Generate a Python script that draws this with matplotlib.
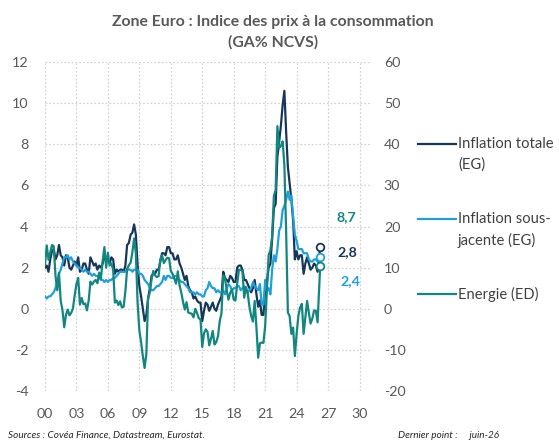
import numpy as np
import matplotlib
matplotlib.use('Agg')
import matplotlib.pyplot as plt
from matplotlib.lines import Line2D

plt.rcParams['font.family'] = ['Lato', 'DejaVu Sans']
plt.rcParams['axes.unicode_minus'] = False

# Donnees (glissement annuel, %), un point tous les deux mois : jan, mar, mai, jul, sep, nov
annees = list(range(2000, 2026))
mois = [1, 3, 5, 7, 9, 11]
mois_fin = [(2026, 1), (2026, 4)]

inflation_totale = [
    2.0, 2.1, 1.8, 2.4, 2.8, 2.9,      # 2000
    2.4, 2.6, 3.1, 2.6, 2.5, 2.1,      # 2001
    2.6, 2.5, 2.0, 1.9, 2.1, 2.3,      # 2002
    2.1, 2.5, 1.8, 1.9, 2.2, 2.2,      # 2003
    1.9, 1.7, 2.5, 2.3, 2.1, 2.2,      # 2004
    1.9, 2.1, 2.0, 2.2, 2.6, 2.3,      # 2005
    2.4, 2.2, 2.5, 2.4, 1.7, 1.9,      # 2006
    1.8, 1.9, 1.9, 1.8, 2.1, 3.1,      # 2007
    3.2, 3.6, 3.7, 4.1, 3.6, 2.1,      # 2008
    1.1, 0.6, 0.0, -0.6, -0.3, 0.5,    # 2009
    1.0, 1.6, 1.7, 1.7, 1.9, 1.9,      # 2010
    2.3, 2.7, 2.7, 2.6, 3.0, 3.0,      # 2011
    2.7, 2.7, 2.4, 2.4, 2.6, 2.2,      # 2012
    2.0, 1.7, 1.4, 1.6, 1.1, 0.9,      # 2013
    0.8, 0.5, 0.6, 0.4, 0.3, 0.3,      # 2014
    -0.6, -0.1, 0.3, 0.2, -0.1, 0.1,   # 2015
    0.3, 0.0, -0.1, 0.2, 0.4, 0.6,     # 2016
    1.8, 1.5, 1.4, 1.3, 1.6, 1.5,      # 2017
    1.3, 1.3, 2.0, 2.1, 2.1, 1.9,      # 2018
    1.4, 1.4, 1.2, 1.0, 0.8, 1.0,      # 2019
    1.4, 0.7, 0.1, 0.4, -0.3, -0.3,    # 2020
    0.9, 1.3, 2.0, 2.2, 3.4, 4.9,      # 2021
    5.1, 7.4, 8.1, 8.9, 9.9, 10.6,     # 2022
    8.6, 6.9, 6.1, 5.3, 4.3, 2.4,      # 2023
    2.8, 2.4, 2.6, 2.6, 1.7, 2.2,      # 2024
    2.5, 2.2, 1.9, 2.0, 2.2, 2.1,      # 2025
    1.8, 3.0,                          # 2026
]

inflation_sj = [
    0.6, 0.5, 0.6, 0.6, 0.7, 0.8,
    1.0, 1.3, 1.7, 1.9, 2.2, 2.5,
    2.5, 2.6, 2.4, 2.5, 2.3, 2.2,
    2.1, 2.0, 2.0, 1.9, 1.8, 1.9,
    1.8, 1.8, 1.7, 1.6, 1.7, 1.6,
    1.6, 1.5, 1.4, 1.4, 1.3, 1.4,
    1.3, 1.4, 1.4, 1.5, 1.5, 1.6,
    1.7, 1.8, 1.8, 1.8, 1.8, 1.9,
    1.9, 1.9, 1.8, 1.9, 1.9, 1.9,
    1.7, 1.7, 1.6, 1.4, 1.3, 1.2,
    1.0, 0.9, 0.9, 1.0, 1.1, 1.1,
    1.2, 1.3, 1.6, 1.4, 1.6, 1.6,
    1.5, 1.5, 1.6, 1.6, 1.5, 1.4,
    1.3, 1.3, 1.2, 1.1, 1.0, 0.8,
    0.8, 0.8, 0.7, 0.8, 0.7, 0.7,
    0.6, 0.6, 0.9, 1.0, 1.3, 1.1,
    1.0, 1.0, 0.8, 0.9, 0.8, 0.8,
    0.9, 0.7, 1.0, 1.2, 1.1, 0.9,
    1.0, 1.0, 1.1, 1.1, 0.9, 1.0,
    1.1, 0.8, 0.8, 0.9, 1.0, 1.3,
    1.1, 1.0, 0.9, 1.2, 0.2, 0.2,
    1.4, 0.9, 1.0, 0.7, 1.9, 2.6,
    2.3, 2.9, 3.8, 4.0, 4.8, 5.0,
    5.3, 5.7, 5.3, 5.5, 4.5, 3.6,
    3.3, 2.9, 2.9, 2.9, 2.7, 2.7,
    2.7, 2.4, 2.3, 2.3, 2.4, 2.4,
    2.3, 2.5,
]

energie = [
    10.8, 15.4, 11.9, 13.7, 15.5, 15.2,
    8.1, 4.5, 8.7, 1.9, -0.3, -4.5,
    -1.5, -0.2, -1.6, -1.0, 0.1, 3.3,
    6.0, 7.5, 1.0, 2.6, 1.1, 1.3,
    -0.4, 2.0, 6.6, 5.9, 6.6, 7.0,
    6.2, 8.8, 7.3, 11.7, 15.0, 10.0,
    13.6, 10.5, 11.0, 9.5, 1.5, 2.0,
    0.9, 1.8, 0.3, 0.5, 4.2, 9.7,
    10.6, 11.2, 13.7, 17.1, 13.5, 1.3,
    -5.3, -8.1, -11.6, -14.4, -11.0, 2.4,
    4.0, 7.2, 9.2, 8.1, 7.7, 7.9,
    12.0, 13.0, 11.1, 11.8, 12.4, 12.3,
    9.2, 8.5, 7.3, 6.1, 9.1, 5.7,
    3.9, 1.7, -0.2, 1.6, -0.9, -1.1,
    -1.2, -2.1, 0.0, -1.0, -2.3, -2.6,
    -9.3, -6.0, -5.0, -5.6, -8.9, -7.3,
    -5.4, -8.7, -8.1, -6.7, -3.0, -1.1,
    8.1, 7.4, 4.5, 2.2, 3.9, 4.7,
    2.2, 2.0, 6.1, 9.5, 9.5, 9.1,
    2.7, 5.3, 3.8, 0.5, -1.8, -3.1,
    1.9, -4.5, -11.9, -8.4, -8.2, -8.3,
    -4.2, 4.3, 13.1, 14.3, 17.6, 27.5,
    28.8, 44.4, 39.1, 39.6, 40.7, 34.9,
    18.9, -0.9, -1.8, -6.1, -4.6, -11.5,
    -6.1, -1.8, 0.3, 1.2, -6.1, -2.0,
    1.9, -1.0, -3.6, -2.4, -0.4, -0.5,
    -3.3, 10.5,
]

etiquettes = ['8,7', '2,8', '2,4']
xticks_lab = ['00', '03', '06', '09', '12', '15', '18', '21', '24', '27', '30']

dates = [a + (m - 1) / 12 for a in annees for m in mois] + [a + (m - 1) / 12 for a, m in mois_fin]

c_tot = '#17375a'
c_sj = '#1ea0dc'
c_en = '#11877f'
gris = '#595959'

fig = plt.figure(figsize=(5.59, 4.41), dpi=100)
ax = fig.add_axes([45/559, 1-391/441, 325/559, 329/441])
ax2 = ax.twinx()

ax.plot(dates, inflation_totale, color=c_tot, lw=1.6, zorder=3)
ax.plot(dates, inflation_sj, color=c_sj, lw=1.6, zorder=4)
ax2.plot(dates, energie, color=c_en, lw=1.6, zorder=3)

# derniers points
ax.plot(dates[-1], inflation_totale[-1], 'o', ms=5.5, mfc='white', mec=c_tot, mew=1.3, zorder=5)
ax.plot(dates[-1], inflation_sj[-1], 'o', ms=5.5, mfc='white', mec=c_sj, mew=1.3, zorder=5)
ax2.plot(dates[-1], energie[-1], 'o', ms=5.5, mfc='white', mec=c_en, mew=1.3, zorder=5)

ax.set_xlim(2000, 2031)
ax.set_ylim(-4, 12)
ax2.set_ylim(-20, 60)
ax.set_yticks(np.arange(-4, 13, 2))
ax2.set_yticks(np.arange(-20, 61, 10))
ax.set_xticks(np.arange(2000, 2031, 3))
ax.set_xticklabels(xticks_lab)

for a in (ax, ax2):
    for s in a.spines.values():
        s.set_visible(False)
    a.tick_params(length=0, colors=gris, labelsize=10.3)
ax.tick_params(axis='y', pad=12)
ax2.tick_params(axis='y', pad=10)
ax.tick_params(axis='x', pad=12)
ax.grid(True, ls=(0, (1.5, 1.5)), color='#d4d4d4', lw=0.9, zorder=0)
ax.set_axisbelow(True)

ax.text(2028.7, 4.45, etiquettes[0], color=c_en, fontsize=10.3, fontweight='bold', ha='center', va='center')
ax.text(2028.85, 2.75, etiquettes[1], color=c_tot, fontsize=10.3, fontweight='bold', ha='center', va='center')
ax.text(2029.1, 1.35, etiquettes[2], color=c_sj, fontsize=10.3, fontweight='bold', ha='center', va='center')

fig.text(273/559, 1-32/441, 'Zone Euro : Indice des prix à la consommation\n(GA% NCVS)',
         ha='center', va='center', fontsize=11.3, fontweight='bold', color=gris, linespacing=1.5)

# legende
leg = [(144, c_tot, ['Inflation totale', '(EG)']),
       (219, c_sj, ['Inflation sous-', 'jacente (EG)']),
       (294, c_en, ['Energie (ED)'])]
for y, c, lignes in leg:
    fig.add_artist(Line2D([418/559, 456/559], [1-y/441, 1-y/441], color=c, lw=1.6))
    for i, t in enumerate(lignes):
        fig.text(458/559, 1-(y + 21*i)/441, t, ha='left', va='center', fontsize=10.6, color='#404040')

fig.text(8/559, 1-435/441, 'Sources : Covéa Finance, Datastream, Eurostat.', ha='left', va='center',
         fontsize=7.2, style='italic', color='#262626')
fig.text(398/559, 1-435/441, 'Dernier point :     juin-26', ha='left', va='center',
         fontsize=7.2, style='italic', color='#262626')

plt.savefig('out.png', dpi=100)
